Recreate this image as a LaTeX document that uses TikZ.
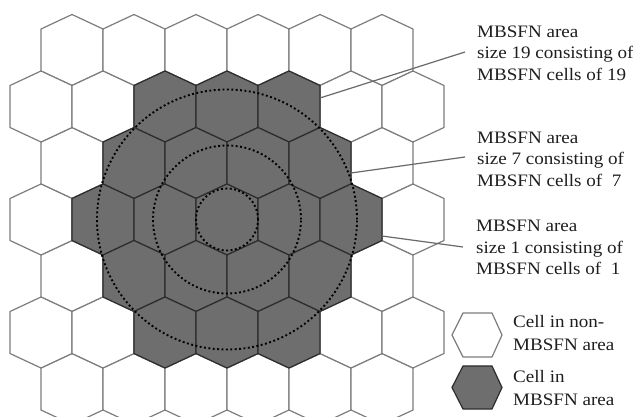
\documentclass[tikz,border=0pt]{standalone}
\usepackage{fontspec}
\setmainfont{Liberation Serif}[FakeStretch=1.09]
\definecolor{cellgrey}{RGB}{110,110,110}
\definecolor{lightedge}{RGB}{125,125,125}
\definecolor{darkedge}{RGB}{45,45,45}
\definecolor{leadergrey}{RGB}{105,105,105}
\definecolor{textcol}{RGB}{30,30,30}
\tikzset{
  wcell/.style={draw=lightedge, fill=white, line width=1.2pt, line join=round},
  gcell/.style={draw=darkedge, fill=cellgrey, line width=1.2pt, line join=round},
  dotcirc/.style={draw=black, line width=1.9pt, dash pattern=on 1.9pt off 2.5pt},
  leader/.style={draw=leadergrey, line width=1.2pt},
  lbl/.style={inner sep=0pt, anchor=base west, text=textcol, font=\fontsize{17.5}{21.5}\selectfont},
  legtxt/.style={inner sep=0pt, anchor=base west, text=textcol, font=\fontsize{17.5}{23.5}\selectfont}
}
\begin{document}
\begin{tikzpicture}[x=1pt,y=-1pt]
\useasboundingbox (0,0) rectangle (633,417);
\begin{scope}
\clip (0,0) rectangle (633,417);
% white grid
\foreach \yy in {50,163,276,389}
  \foreach \xx in {72,134,196,258,320,382}
    \draw[wcell] (\xx,\yy) ++(0,-35.5) -- ++(31,14.5) -- ++(0,42) -- ++(-31,14.5) -- ++(-31,-14.5) -- ++(0,-42) -- cycle;
\foreach \yy in {106.5,219.5,332.5}
  \foreach \xx in {41,103,165,227,289,351,413}
    \draw[wcell] (\xx,\yy) ++(0,-35.5) -- ++(31,14.5) -- ++(0,42) -- ++(-31,14.5) -- ++(-31,-14.5) -- ++(0,-42) -- cycle;
% grey MBSFN cells
\foreach \xx/\yy in {165/106.5,227/106.5,289/106.5,
                     134/163,196/163,258/163,320/163,
                     103/219.5,165/219.5,227/219.5,289/219.5,351/219.5,
                     134/276,196/276,258/276,320/276,
                     165/332.5,227/332.5,289/332.5}
    \draw[gcell] (\xx,\yy) ++(0,-35.5) -- ++(31,14.5) -- ++(0,42) -- ++(-31,14.5) -- ++(-31,-14.5) -- ++(0,-42) -- cycle;
\end{scope}
% dotted circles
\coordinate (ctr) at (227,219.5);
\draw[dotcirc] (ctr) circle[radius=31pt];
\draw[dotcirc] (ctr) circle[radius=74pt];
\draw[dotcirc] (ctr) circle[radius=130pt];
% labels
\node[lbl] (label1) at (477,37.5) {\begin{tabular}[t]{@{}l@{}}MBSFN area\\size 19 consisting of\\MBSFN cells of 19\end{tabular}};
\node[lbl] (label2) at (477,143.5) {\begin{tabular}[t]{@{}l@{}}MBSFN area\\size 7 consisting of\\MBSFN cells of \ 7\end{tabular}};
\node[lbl] (label3) at (476,232) {\begin{tabular}[t]{@{}l@{}}MBSFN area\\size 1 consisting of\\MBSFN cells of \ 1\end{tabular}};
% leader lines
\coordinate (p1) at (320,98);  \coordinate (q1) at (465,52);
\coordinate (p2) at (351,173); \coordinate (q2) at (465,157);
\coordinate (p3) at (382,236); \coordinate (q3) at (463,247);
\draw[leader] (p1) -- (q1);
\draw[leader] (p2) -- (q2);
\draw[leader] (p3) -- (q3);
% legend
\draw[wcell] (452,335) -- (463,313) -- (492,313) -- (502,335) -- (492,357) -- (463,357) -- cycle;
\draw[gcell] (452,387.5) -- (463,366) -- (492,366) -- (502,387.5) -- (492,409) -- (463,409) -- cycle;
\node[legtxt] (leg1) at (513,327) {\begin{tabular}[t]{@{}l@{}}Cell in non-\\MBSFN area\end{tabular}};
\node[legtxt] (leg2) at (513,382) {\begin{tabular}[t]{@{}l@{}}Cell in\\MBSFN area\end{tabular}};
\end{tikzpicture}
\end{document}
